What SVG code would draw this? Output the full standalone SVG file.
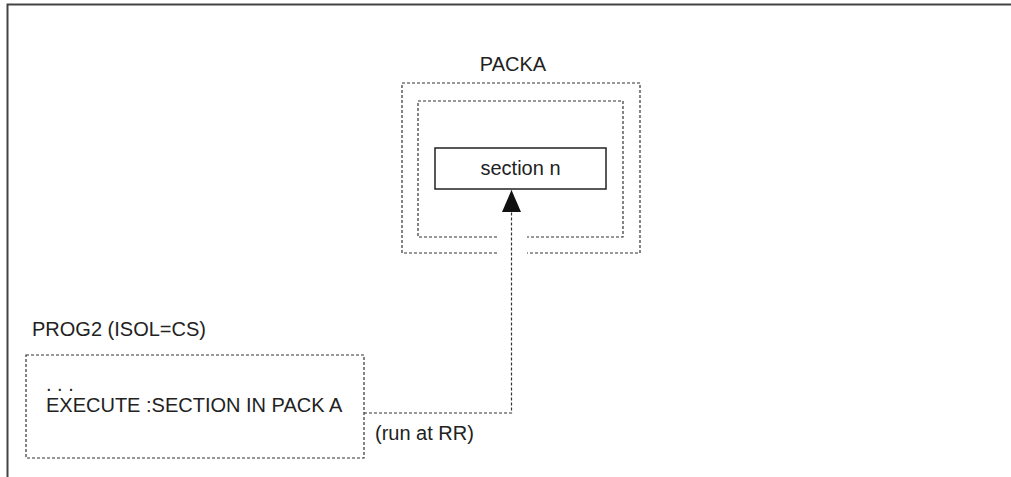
<svg xmlns="http://www.w3.org/2000/svg" width="1011" height="477" viewBox="0 0 1011 477">
<style>
.t{font-family:"Liberation Sans",Arial,sans-serif;font-size:20px;fill:#222}
.d{fill:none;stroke:#333;stroke-width:1.2;stroke-dasharray:3 2}
.s{fill:#fff;stroke:#222;stroke-width:1.5}
</style>
<defs>
<marker id="arr" markerUnits="userSpaceOnUse" markerWidth="22" markerHeight="19" refX="22" refY="9.5" orient="auto" viewBox="0 0 22 19">
<path d="M0 0 L22 9.5 L0 19 Z" fill="#111"/>
</marker>
</defs>
<rect width="1011" height="477" fill="#fff"/>
<path d="M7.5 477 V4.5 H1011" fill="none" stroke="#444" stroke-width="2"/>
<g id="packa">
<text class="t" x="513" y="71" text-anchor="middle">PACKA</text>
<path class="d" d="M497 253 H402 V83 H640 V253 H527"/>
<path class="d" d="M497 237 H418 V101 H623 V237 H527"/>
</g>
<g id="section-n">
<rect class="s" x="435" y="148" width="171" height="41"/>
<text class="t" x="520.5" y="175" text-anchor="middle">section n</text>
</g>
<g id="prog2">
<text class="t" x="32" y="336">PROG2 (ISOL=CS)</text>
<rect class="d" x="26" y="355" width="338" height="103"/>
<text class="t" x="46" y="391">. . .</text>
<text class="t" x="46" y="412">EXECUTE :SECTION IN PACK A</text>
</g>
<g id="connectors">
<path class="d" d="M364 413 H511.5 V190" marker-end="url(#arr)"/>
<text class="t" x="375" y="440">(run at RR)</text>
</g>
</svg>
